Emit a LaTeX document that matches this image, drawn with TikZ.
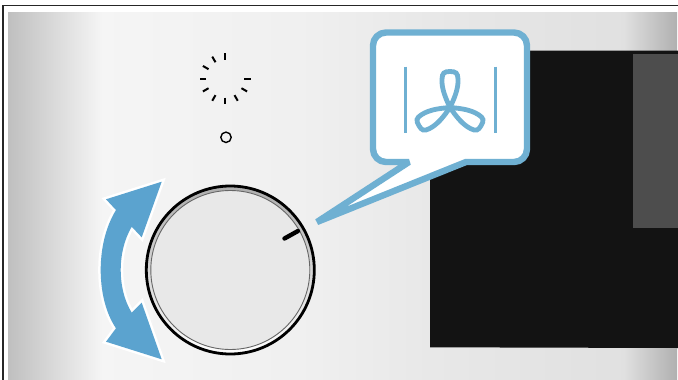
\documentclass[tikz,border=0pt]{standalone}
\usepackage{tikz}
\usetikzlibrary{calc}

\definecolor{callblue}{HTML}{6FB0D2}
\definecolor{arrowblue}{HTML}{5BA3CF}
\definecolor{screenblack}{HTML}{131313}
\definecolor{screengrey}{HTML}{4D4D4D}
\definecolor{dialgrey}{HTML}{E8E8E8}
\pgfdeclarehorizontalshading{panelshade}{100bp}{
  color(0bp)=(black!25); color(25bp)=(black!25);
  color(32bp)=(black!4); color(47bp)=(black!6);
  color(56.5bp)=(black!9); color(71bp)=(black!12);
  color(75bp)=(black!31); color(100bp)=(black!31)}

\begin{document}
\begin{tikzpicture}[x=1pt, y=-1pt,
    tick/.style={line width=2pt, black},
    fanline/.style={callblue, line width=2.6pt}]
  \useasboundingbox (0,0) rectangle (678,380);
  \coordinate (dial) at (230.3,270);
  \coordinate (ring) at (225,78.7);
  \coordinate (fan) at (450,107.5);
  % panel and frame
  \fill[white] (0,0) rectangle (678,380);
  \shade[shading=panelshade] (8,12) rectangle (677,380);
  \draw[line width=1.6pt, black!85] (3,380) -- (3,5.5) -- (678,5.5);
  % screen
  \fill[screenblack] (430,50.5) -- (678,50.5) -- (678,348) -- (430,347.3) -- cycle;
  \fill[screengrey] (633,54) rectangle (678,228);
  % ticks and lamp
  \foreach \a in {90,120,150,180,210,240,270,300,330,0}
    \draw[tick] ($(ring)+(-\a:19)$) -- ($(ring)+(-\a:25.5)$);
  \draw[line width=1.4pt, black] (226,137.3) circle (5.2);
  % dial
  \shade[top color=black!32, bottom color=white] (dial) circle (84);
  \draw[line width=2.8pt, black] (dial) circle (84);
  \fill[dialgrey] (dial) circle (79.5);
  \draw[line width=0.9pt, black!60] (dial) circle (79.5);
  \draw[line width=4.4pt, black, line cap=round] (284.5,238.5) -- (298,231);
  % turning arrow
  \fill[arrowblue, preaction={draw=white, line width=5pt}]
    (161.7,181.7) -- (106,199.3) -- (116,210)
    .. controls (105,228) and (100.7,250) .. (100.7,270)
    .. controls (100.7,290) and (105,312) .. (116,328.3)
    -- (106,341.7) -- (161.7,359.3) -- (141.7,302.7) -- (131.7,312.7)
    .. controls (124,300) and (120.7,285) .. (120.7,270)
    .. controls (120.7,255) and (124,240) .. (131.7,226.7)
    -- (141.7,237.3) -- cycle;
  % callout
  \draw[callblue, fill=white, line width=6.4pt, line join=bevel]
    [rounded corners=13] (450,32.5) -- (373,32.5) -- (373,162)
    [sharp corners] -- (409,162) -- (317,222) -- (466,162)
    [rounded corners=13] -- (527,162) -- (527,32.5) -- cycle;
  \draw[fanline] (405.3,66.7) -- (405.3,133.3);
  \draw[fanline] (495.7,66.7) -- (495.7,133.3);
  \foreach \a in {0,120,240}
    \draw[callblue, line width=4.8pt, rotate around={\a:(fan)}]
      (fan) .. controls (445,97) and (441.5,88) .. (442,79)
      .. controls (442.3,73) and (444,71.5) .. (450,71.5)
      .. controls (456,71.5) and (457.7,73) .. (458,79)
      .. controls (458.5,88) and (455,97) .. (fan);
\end{tikzpicture}
\end{document}
